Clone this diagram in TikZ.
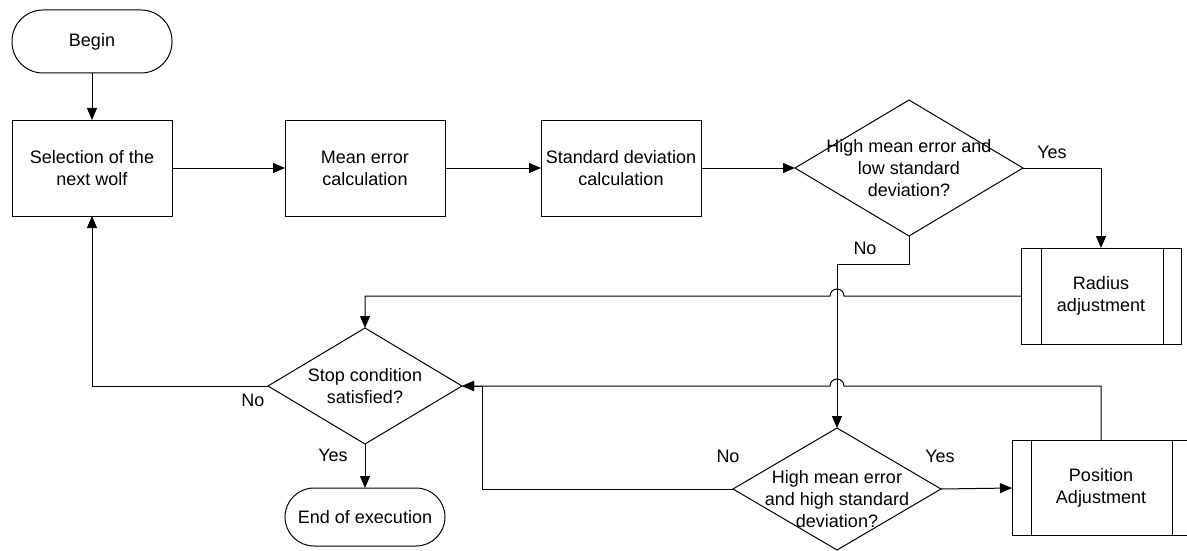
\documentclass[tikz,border=0pt]{standalone}
\usepackage{fontspec}
\setmainfont{Liberation Sans}
\usetikzlibrary{shapes.geometric,arrows.meta}
\begin{document}
\begin{tikzpicture}[x=1pt,y=-1pt,
  every node/.style={font=\fontsize{18}{22}\selectfont, inner sep=0pt, outer sep=0pt},
  line/.style={line width=1pt},
  arr/.style={line width=1pt, -{Triangle[length=12pt,width=10pt]}},
  procbox/.style={draw, line width=1pt, minimum width=160pt, minimum height=96pt, align=center},
  predef/.style={draw, line width=1pt, minimum height=96pt, align=center},
  term/.style={draw, line width=1pt, minimum width=160pt, align=center},
  dec/.style={diamond, draw, line width=1pt},
  lbl/.style={}
]
\useasboundingbox (0,0) rectangle (1187,551);

% nodes
\node[term, minimum height=63pt, rounded corners=31pt] (begin) at (92,41.5) {Begin};
\node[procbox] (sel) at (92,168) {Selection of the\\next wolf};
\node[procbox] (mean) at (365,168) {Mean error\\calculation};
\node[procbox] (std) at (621,168) {Standard deviation\\calculation};
\node[dec, minimum width=228pt, minimum height=136pt] (d1) at (909,168) {};
\node[align=center] (d1t) at (d1.center) {High mean error and\\low standard\\deviation?};
\node[predef, minimum width=160pt] (rad) at (1101,296) {Radius\\adjustment};
\node[dec, minimum width=194pt, minimum height=116pt] (stop) at (365,386) {};
\node[align=center] (stopt) at (stop.center) {Stop condition\\satisfied?};
\node[term, minimum height=58pt, rounded corners=29pt] (endn) at (365,517) {End of execution};
\node[dec, minimum width=208pt, minimum height=122pt] (d2) at (837,489) {};
\node[align=center] (d2t) at ([yshift=-10pt]d2.center) {High mean error\\and high standard\\deviation?};
\node[predef, minimum width=178pt, minimum height=95pt] (pos) at (1101,488) {Position\\Adjustment};

% inner lines of predefined process boxes
\draw[line] ([xshift=20pt]rad.north west) -- ([xshift=20pt]rad.south west);
\draw[line] ([xshift=-18pt]rad.north east) -- ([xshift=-18pt]rad.south east);
\draw[line] ([xshift=19pt]pos.north west) -- ([xshift=19pt]pos.south west);
\draw[line] ([xshift=-18pt]pos.north east) -- ([xshift=-18pt]pos.south east);

% hop coordinates
\coordinate (hopA) at (d2.north |- rad.west);
\coordinate (hopB) at (d2.north |- stop.east);

% connectors
\draw[arr] (begin) -- (sel);
\draw[arr] (sel) -- (mean);
\draw[arr] (mean) -- (std);
\draw[arr] (std) -- (d1.west);
\draw[arr] (d1.east) -| (rad.north);
\draw[arr] (d1.south) -- ++(0,28) -| (d2.north);
\draw[arr] (rad.west) -- ([xshift=7pt]hopA) arc[start angle=0,end angle=180,radius=7pt] -- (stop.north |- rad.west) -- (stop.north);
\draw[arr] (stop.west) -| (sel.south);
\draw[arr] (stop.south) -- (endn.north);
\draw[arr] (d2.east) -- (pos.west);
\draw[arr] (d2.west) -| ([xshift=20pt]stop.east) -- (stop.east);
\draw[arr] (pos.north) -- (pos.north |- stop.east) -- ([xshift=7pt]hopB) arc[start angle=0,end angle=180,radius=7pt] -- (stop.east);

% labels
\node[lbl] (ly1) at (1052,152) {Yes};
\node[lbl] (ln1) at (865,248) {No};
\node[lbl] (ln2) at (253,400) {No};
\node[lbl] (ly2) at (333,455) {Yes};
\node[lbl] (ln3) at (728,456) {No};
\node[lbl] (ly3) at (940,456) {Yes};
\end{tikzpicture}
\end{document}
